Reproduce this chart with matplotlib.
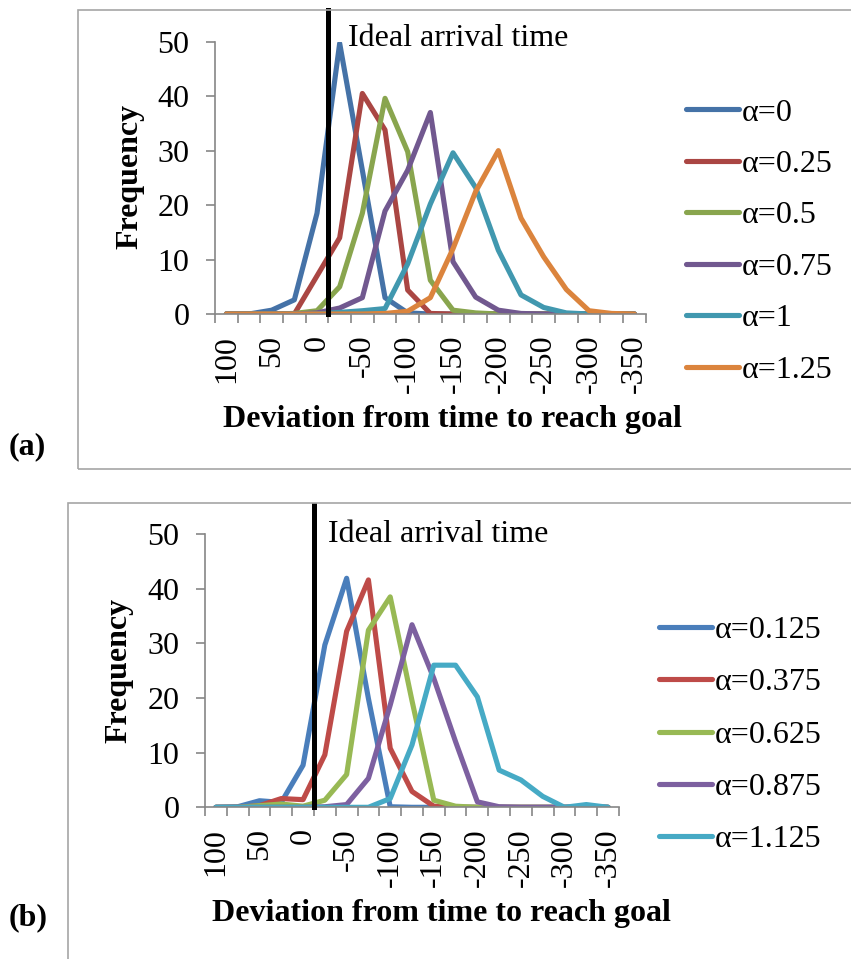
import matplotlib.pyplot as plt
from matplotlib.patches import Rectangle

plt.rcParams['font.family'] = ['Liberation Serif', 'DejaVu Serif']

# deviation categories (x axis), one per bin
deviation = [100, 75, 50, 25, 0, -25, -50, -75, -100, -125, -150, -175,
             -200, -225, -250, -275, -300, -325, -350]

# panel (a)
a_alpha_000 = [0, 0, 0.7, 2.6, 18.5, 49.7, 26.4, 3.0, 0.2, 0, 0, 0, 0, 0, 0, 0, 0, 0, 0]
a_alpha_025 = [0, 0, 0, 0, 7.0, 14.0, 40.5, 33.8, 4.4, 0.1, 0, 0, 0, 0, 0, 0, 0, 0, 0]
a_alpha_050 = [0, 0, 0, 0.1, 0.6, 5.0, 18.5, 39.6, 29.8, 6.2, 0.7, 0.2, 0, 0, 0, 0, 0, 0, 0]
a_alpha_075 = [0, 0, 0, 0, 0.2, 1.1, 3.0, 18.9, 26.4, 37.0, 9.6, 3.1, 0.7, 0.1, 0, 0, 0, 0, 0]
a_alpha_100 = [0, 0, 0, 0, 0, 0.3, 0.6, 1.0, 9.2, 20.2, 29.6, 23.2, 11.7, 3.5, 1.2, 0.2, 0, 0, 0]
a_alpha_125 = [0, 0, 0, 0, 0, 0, 0, 0.1, 0.5, 3.0, 12.0, 22.5, 30.0, 17.6, 10.5, 4.5, 0.6, 0.1, 0]
a_labels = ['α=0', 'α=0.25', 'α=0.5', 'α=0.75', 'α=1', 'α=1.25']
a_colors = ['#4572A7', '#AA4643', '#89A54E', '#71588F', '#4198AF', '#DB843D']

# panel (b)
b_alpha_0125 = [0, 0.1, 1.2, 0.9, 7.7, 29.7, 41.9, 19.9, 0.1, 0, 0, 0, 0, 0, 0, 0, 0, 0, 0]
b_alpha_0375 = [0, 0, 0.3, 1.6, 1.4, 9.6, 32.2, 41.6, 10.8, 2.9, 0.2, 0, 0, 0, 0, 0, 0, 0, 0]
b_alpha_0625 = [0, 0, 0.3, 0.6, 0.2, 1.3, 6.0, 32.4, 38.5, 19.5, 1.3, 0.2, 0, 0, 0, 0, 0, 0, 0]
b_alpha_0875 = [0, 0, 0, 0, 0, 0.1, 0.5, 5.3, 18.7, 33.4, 23.6, 12.0, 1.0, 0.1, 0, 0, 0, 0.1, 0]
b_alpha_1125 = [0, 0, 0, 0, 0, 0, 0, 0, 1.6, 11.4, 26.0, 26.0, 20.2, 6.8, 5.0, 2.0, 0, 0.5, 0]
b_labels = ['α=0.125', 'α=0.375', 'α=0.625', 'α=0.875', 'α=1.125']
b_colors = ['#4A7EBB', '#BE4B48', '#98B954', '#7D60A0', '#46AAC5']

ideal_pos = 4.5  # between the 0 and -25 bins

W, H = 851, 959
fig = plt.figure(figsize=(W / 100, H / 100), dpi=100)

# panel frames
fig.patches.append(Rectangle((78 / W, 1 - 469 / H), 1.0, 459 / H, transform=fig.transFigure,
                             fill=False, ec='#a6a6a6', lw=1.2))
fig.patches.append(Rectangle((68 / W, -0.05), 1.0, 1 - 503 / H + 0.05, transform=fig.transFigure,
                             fill=False, ec='#a6a6a6', lw=1.2))


def draw_panel(rect, series, labels, colors, line_top, leg_anchor, spacing):
    ax = fig.add_axes(rect)
    x = list(range(len(deviation)))
    for s, lab, c in zip(series, labels, colors):
        ax.plot(x, s, color=c, lw=3.7, label=lab, solid_joinstyle='round', solid_capstyle='round')
    ax.plot([ideal_pos, ideal_pos], [0, line_top], color='black', lw=3.6, clip_on=False, zorder=5)
    ax.set_xlim(-0.5, len(deviation) - 0.5)
    ax.set_ylim(0, 50)
    ax.set_yticks([0, 10, 20, 30, 40, 50])
    ax.set_xticks([i - 0.5 for i in range(len(deviation) + 1)])
    ax.set_xticklabels([])
    ax.set_xticks(x[::2], minor=True)
    ax.set_xticklabels([str(d) for d in deviation[::2]], minor=True, rotation=90)
    ax.tick_params(axis='x', which='minor', length=0, pad=15, labelsize=23)
    ax.tick_params(axis='both', which='major', direction='out', length=6.5, width=1.2,
                   color='#868686', labelsize=23)
    ax.tick_params(axis='y', pad=12)
    for sp in ['top', 'right']:
        ax.spines[sp].set_visible(False)
    for sp in ['left', 'bottom']:
        ax.spines[sp].set_color('#868686')
        ax.spines[sp].set_linewidth(1.2)
    ax.legend(loc='center left', bbox_to_anchor=leg_anchor, bbox_transform=fig.transFigure,
              frameon=False, fontsize=23, handlelength=1.65, handletextpad=0.08,
              labelspacing=spacing, borderaxespad=0, borderpad=0)
    return ax


draw_panel([215 / W, 1 - 314 / H, 430.7 / W, 272.3 / H],
           [a_alpha_000, a_alpha_025, a_alpha_050, a_alpha_075, a_alpha_100, a_alpha_125],
           a_labels, a_colors, 55.8, (686 / W, 1 - 241.5 / H), 0.69)
draw_panel([205 / W, 1 - 807.3 / H, 414 / W, 273.3 / H],
           [b_alpha_0125, b_alpha_0375, b_alpha_0625, b_alpha_0875, b_alpha_1125],
           b_labels, b_colors, 55.3, (659 / W, 1 - 735 / H), 0.72)

# texts
fig.text(348 / W, 1 - 38 / H, 'Ideal arrival time', fontsize=23, ha='left', va='center')
fig.text(328 / W, 1 - 535 / H, 'Ideal arrival time', fontsize=23, ha='left', va='center')
fig.text(130 / W, 1 - 176 / H, 'Frequency', fontsize=23, fontweight='bold', rotation=90,
         ha='center', va='center')
fig.text(119 / W, 1 - 670 / H, 'Frequency', fontsize=23, fontweight='bold', rotation=90,
         ha='center', va='center')
fig.text(452 / W, 1 - 420 / H, 'Deviation from time to reach goal', fontsize=23,
         fontweight='bold', ha='center', va='center')
fig.text(441 / W, 1 - 914 / H, 'Deviation from time to reach goal', fontsize=23,
         fontweight='bold', ha='center', va='center')
fig.text(27 / W, 1 - 447 / H, '(a)', fontsize=23, fontweight='bold', ha='center', va='center')
fig.text(28 / W, 1 - 918 / H, '(b)', fontsize=23, fontweight='bold', ha='center', va='center')

fig.savefig('out.png', dpi=100)
